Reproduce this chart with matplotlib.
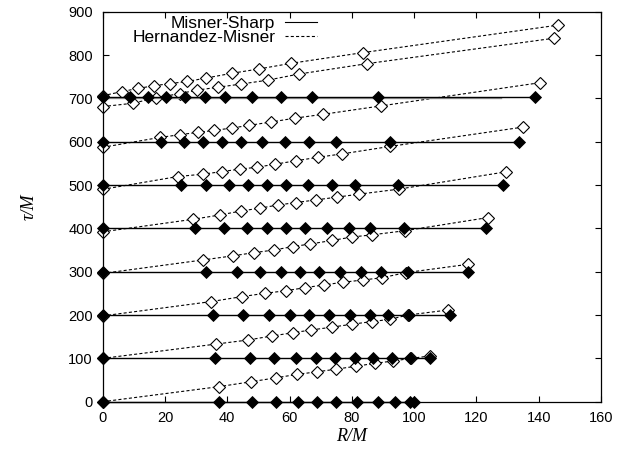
import matplotlib
matplotlib.use("Agg")
import matplotlib.pyplot as plt
from matplotlib.lines import Line2D

plt.rcParams['font.family'] = ['Liberation Sans', 'DejaVu Sans']
plt.rcParams['lines.scale_dashes'] = False

# Misner-Sharp slices: constant tau, radial positions of the shells
ms_tau = [0, 100, 200, 300, 400, 500, 600, 704]
ms_R = [
    [0, 37.2, 47.9, 55.8, 62.6, 68.8, 75.0, 81.6, 88.3, 93.8, 98.6, 99.9],
    [0, 36.2, 47.3, 55.0, 62.1, 68.5, 74.7, 81.1, 86.9, 92.8, 98.6, 105.0],
    [0, 35.5, 45.2, 53.4, 60.0, 66.4, 72.8, 79.5, 85.9, 91.7, 98.4, 111.4],
    [0, 33.2, 43.1, 50.5, 57.1, 63.5, 69.6, 76.3, 83.0, 89.4, 97.9, 117.2],
    [0, 29.8, 39.0, 46.3, 52.9, 58.9, 65.1, 72.0, 79.2, 85.9, 96.8, 123.2],
    [0, 25.2, 33.2, 40.4, 46.7, 52.9, 59.0, 65.8, 73.6, 81.1, 94.9, 128.6],
    [0, 18.8, 26.0, 32.3, 38.3, 44.4, 51.0, 58.4, 66.4, 75.0, 92.2, 133.7],
    [0, 8.7, 14.6, 20.2, 26.3, 32.7, 39.4, 47.9, 57.1, 67.2, 88.3, 138.8],
]
# extra Misner-Sharp slice without shell markers
ms_plain_R = [0, 128]
ms_plain_tau = [700, 700]

# Hernandez-Misner slices: (R, tau) of the same shells
hm_R = [
    [0, 37.2, 47.6, 55.5, 62.4, 68.8, 74.9, 81.4, 87.5, 93.3, 99.0, 105.0],
    [0, 36.4, 46.8, 54.3, 61.0, 67.0, 73.6, 80.0, 86.4, 92.3, 98.0, 110.9],
    [0, 34.8, 44.7, 52.0, 58.7, 64.9, 71.0, 77.3, 83.7, 89.6, 97.5, 117.3],
    [0, 32.1, 41.7, 48.6, 55.0, 61.1, 66.7, 73.6, 80.0, 86.4, 97.0, 123.6],
    [0, 29.1, 37.7, 44.4, 50.4, 56.4, 62.1, 68.6, 75.2, 82.4, 95.1, 129.5],
    [0, 24.1, 32.1, 38.3, 44.0, 49.5, 55.3, 62.1, 69.1, 77.0, 92.2, 135.0],
    [0, 18.5, 24.7, 30.5, 35.8, 41.4, 47.0, 54.1, 61.9, 70.6, 89.3, 140.3],
    [0, 9.6, 17.0, 24.7, 30.3, 37.0, 44.4, 53.0, 62.9, 84.8, 144.9],
    [0, 6.1, 11.4, 16.4, 21.5, 27.2, 33.3, 41.6, 50.3, 60.6, 83.5, 146.2],
]
hm_tau = [
    [0, 34.6, 46.0, 55.0, 63.0, 69.0, 75.0, 82.0, 88.6, 94.0, 100.0, 105.5],
    [100, 133.0, 142.5, 151.7, 159.0, 165.6, 172.0, 178.8, 184.8, 190.2, 200.0, 211.6],
    [198, 231.0, 242.5, 250.0, 256.0, 263.0, 269.5, 275.7, 281.0, 286.0, 298.0, 317.0],
    [296, 327.0, 336.5, 344.0, 350.0, 358.0, 364.0, 372.0, 380.0, 385.0, 394.5, 424.8],
    [392, 421.0, 431.0, 440.0, 446.6, 454.0, 459.6, 465.8, 472.0, 479.0, 490.5, 530.5],
    [490, 519.6, 525.0, 531.0, 536.7, 541.0, 548.0, 556.0, 564.0, 572.0, 589.0, 633.7],
    [587, 610.0, 616.0, 621.6, 626.0, 631.5, 637.6, 645.5, 654.5, 663.0, 682.5, 736.0],
    [681, 688.6, 701.0, 711.0, 719.0, 725.6, 733.0, 742.0, 756.0, 780.0, 838.7],
    [706, 715.5, 723.0, 729.0, 734.0, 739.0, 747.0, 758.0, 768.0, 781.0, 805.5, 869.0],
]

x_ticks = [0, 20, 40, 60, 80, 100, 120, 140, 160]
y_ticks = [0, 100, 200, 300, 400, 500, 600, 700, 800, 900]

fig = plt.figure(figsize=(6.19, 4.51), dpi=100)
ax = fig.add_axes([0.1659, 0.1093, 0.805, 0.8648])

dash = (2.2, 1.6)
for R, t in zip(hm_R, hm_tau):
    ax.plot(R, t, color='black', lw=0.8, dashes=dash, marker='D', ms=6.3,
            mfc='white', mec='black', mew=0.8, clip_on=False, zorder=2)

ax.plot(ms_plain_R, ms_plain_tau, color='#9a9a9a', lw=1.0, zorder=2.5)
for R, t in zip(ms_R, ms_tau):
    ax.plot(R, [t] * len(R), color='black', lw=1.0, marker='D', ms=6.3,
            mfc='black', mec='black', mew=0.6, clip_on=False, zorder=3)

ax.set_xlim(0, 160)
ax.set_ylim(0, 900)
ax.set_xticks(x_ticks)
ax.set_yticks(y_ticks)
ax.tick_params(direction='in', top=True, right=True, length=4, width=0.8,
               labelsize=10.5, pad=7)
for s in ax.spines.values():
    s.set_linewidth(0.9)

ax.set_xlabel('R/M', family=['Liberation Serif', 'DejaVu Serif'],
              style='italic', fontsize=13, labelpad=2)
ax.set_ylabel('τ/M', family=['Liberation Serif', 'DejaVu Serif'],
              style='italic', fontsize=13, labelpad=22)

# legend: label text right-aligned before the line sample
hs = [Line2D([], [], color='black', lw=0.8),
      Line2D([], [], color='black', lw=0.8, dashes=dash)]
leg = ax.legend(hs, ['Misner-Sharp', 'Hernandez-Misner'], loc='upper right',
                bbox_to_anchor=(0.4295, 0.99), frameon=False,
                markerfirst=False, fontsize=12.5, handlelength=1.84,
                handletextpad=0.54, labelspacing=-0.05, borderpad=0,
                borderaxespad=0)

fig.savefig('out.png', dpi=100)
